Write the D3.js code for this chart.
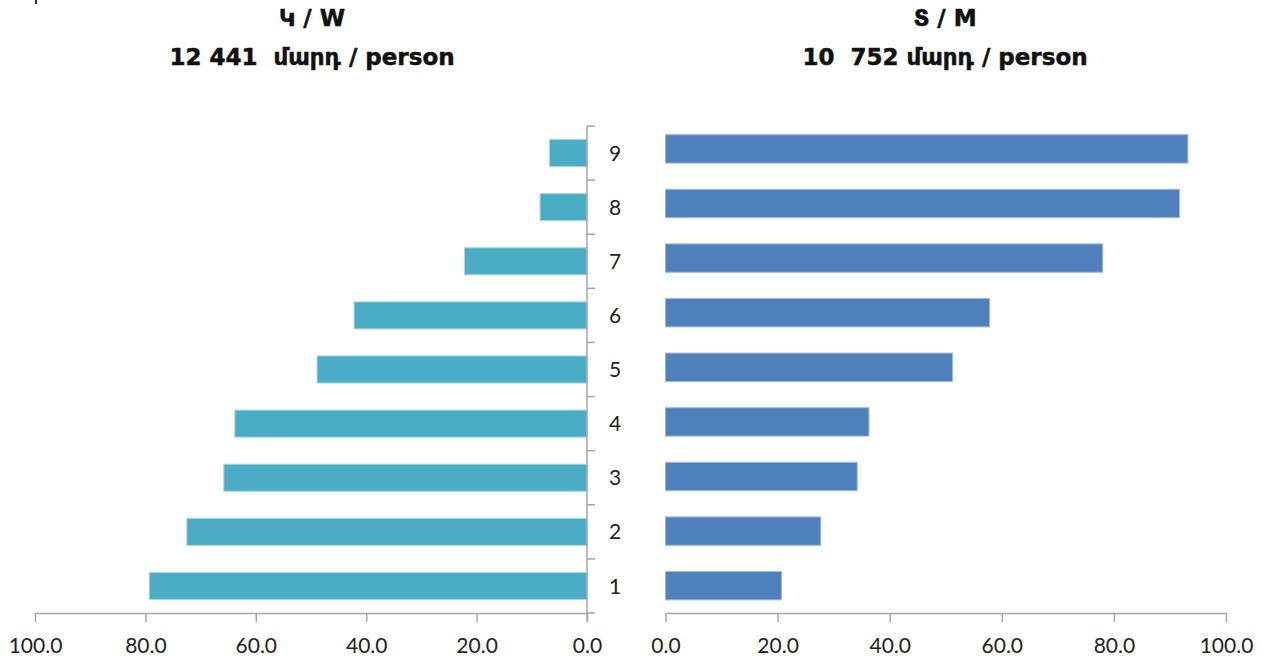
<!DOCTYPE html>
<html>
<head>
<meta charset="utf-8">
<script src="https://cdn.jsdelivr.net/npm/d3@7"></script>
<style>
  html, body { margin: 0; padding: 0; background: #ffffff; }
  svg { display: block; }
  .title { white-space: pre; }
</style>
</head>
<body>
<svg id="chart" width="1266" height="664"></svg>
<script>
// ---- data ----
const categories = ["1", "2", "3", "4", "5", "6", "7", "8", "9"];
const womenValues = [79.3, 72.5, 65.8, 63.8, 48.9, 42.2, 22.2, 8.5, 6.8];
const menValues   = [20.7, 27.7, 34.2, 36.3, 51.2, 57.8, 78.0, 91.7, 93.2];
const xTicks = [0, 20, 40, 60, 80, 100];
const womenTitle = ["Կ / W", "12 441  մարդ / person"];
const menTitle   = ["Տ / M", "10  752 մարդ / person"];

const svg = d3.select("#chart");
const axisColor = "#a6a6a6";
const tickFont = "Lato, 'Open Sans', sans-serif";
const titleFont = "'DejaVu Sans', sans-serif";

// ---- scales ----
const xLeft = d3.scaleLinear().domain([0, 100]).range([587, 35]);
const xRight = d3.scaleLinear().domain([0, 100]).range([665.5, 1226]);
const yLeft = d3.scaleBand().domain(categories).range([613, 126]).paddingInner(0.5).paddingOuter(0.25);
const yRight = d3.scaleBand().domain(categories).range([613, 121.6]).paddingInner(0.48).paddingOuter(0.24);
const yLeftTicks = d3.scaleBand().domain(categories).range([613, 126]);

// ---- bars ----
svg.append("g").selectAll("rect")
  .data(categories.map((c, i) => ({c, v: womenValues[i]})))
  .join("rect")
  .attr("x", d => xLeft(d.v))
  .attr("width", d => xLeft(0) - xLeft(d.v))
  .attr("y", d => yLeft(d.c))
  .attr("height", yLeft.bandwidth())
  .attr("fill", "#4BACC6")
  .attr("stroke", "#a9d6e3")
  .attr("stroke-width", 1);

svg.append("g").selectAll("rect")
  .data(categories.map((c, i) => ({c, v: menValues[i]})))
  .join("rect")
  .attr("x", xRight(0))
  .attr("width", d => xRight(d.v) - xRight(0))
  .attr("y", d => yRight(d.c))
  .attr("height", yRight.bandwidth())
  .attr("fill", "#4F81BD")
  .attr("stroke", "#9fb9dc")
  .attr("stroke-width", 1);

// ---- x axes ----
function styleAxis(g) {
  g.select(".domain").attr("stroke", axisColor).attr("stroke-width", 1.5);
  g.selectAll(".tick line").attr("stroke", axisColor).attr("stroke-width", 1.5);
  g.selectAll(".tick text").attr("fill", "#222").attr("font-family", tickFont).attr("font-size", 21);
}

svg.append("g")
  .attr("transform", "translate(0,613)")
  .call(d3.axisBottom(xLeft).tickValues(xTicks).tickFormat(d3.format(".1f")).tickSize(9).tickSizeOuter(0).tickPadding(16))
  .call(styleAxis);

svg.append("g")
  .attr("transform", "translate(0,613)")
  .call(d3.axisBottom(xRight).tickValues(xTicks).tickFormat(d3.format(".1f")).tickSize(9).tickSizeOuter(0).tickPadding(16))
  .call(styleAxis);

// ---- category axis (between panels) ----
const yAxisG = svg.append("g").attr("transform", "translate(587,0)");
yAxisG.append("line")
  .attr("x1", 0).attr("x2", 0)
  .attr("y1", yLeftTicks.range()[1]).attr("y2", 622)
  .attr("stroke", axisColor).attr("stroke-width", 1.5);
yAxisG.selectAll("line.ct")
  .data(categories.concat(["__top"]))
  .join("line")
  .attr("class", "ct")
  .attr("x1", 0).attr("x2", 8)
  .attr("y1", d => d === "__top" ? yLeftTicks.range()[1] : yLeftTicks(d) + yLeftTicks.bandwidth())
  .attr("y2", d => d === "__top" ? yLeftTicks.range()[1] : yLeftTicks(d) + yLeftTicks.bandwidth())
  .attr("stroke", axisColor).attr("stroke-width", 1.5);

svg.append("g").selectAll("text")
  .data(categories)
  .join("text")
  .attr("x", 615)
  .attr("y", d => yLeft(d) + yLeft.bandwidth() / 2)
  .attr("dy", "0.36em")
  .attr("text-anchor", "middle")
  .attr("font-family", tickFont)
  .attr("font-size", 21)
  .attr("fill", "#222")
  .text(d => d);

// ---- titles ----
function title(lines, cx) {
  const t = svg.append("text")
    .attr("class", "title")
    .attr("xml:space", "preserve")
    .attr("text-anchor", "middle")
    .attr("font-family", titleFont)
    .attr("font-weight", "bold")
    .attr("font-size", 23)
    .attr("fill", "#111")
    .attr("stroke", "#111")
    .attr("stroke-width", 0.5)
    .attr("paint-order", "stroke");
  t.append("tspan").attr("x", cx).attr("y", 26).text(lines[0]);
  t.append("tspan").attr("x", cx).attr("y", 65).text(lines[1]);
}
title(womenTitle, 312);
title(menTitle, 945);

// small cropped mark at top-left corner
svg.append("line").attr("x1", 36).attr("x2", 36).attr("y1", 0).attr("y2", 4)
  .attr("stroke", "#333").attr("stroke-width", 2);
</script>
</body>
</html>
